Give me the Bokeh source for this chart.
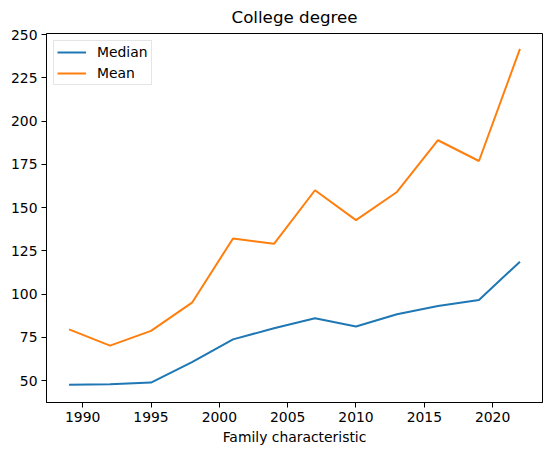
from bokeh.plotting import figure
from bokeh.models import ColumnDataSource, Range1d, FixedTicker, Legend, LegendItem
from bokeh.embed import file_html
from bokeh.resources import INLINE

years = [1989, 1992, 1995, 1998, 2001, 2004, 2007, 2010, 2013, 2016, 2019, 2022]
median = [47.5, 47.8, 48.8, 60.6, 73.8, 80.2, 86.0, 81.2, 88.3, 93.1, 96.6, 118.7]
mean = [79.6, 70.2, 78.7, 95.0, 132.1, 129.0, 160.0, 142.7, 159.0, 188.9, 176.9, 241.7]
x_ticks = [1990, 1995, 2000, 2005, 2010, 2015, 2020]
y_ticks = [50, 75, 100, 125, 150, 175, 200, 225, 250]

src = ColumnDataSource(data=dict(year=years, median=median, mean=mean))

FONT = "DejaVu Sans"

p = figure(width=544, height=447, output_backend="svg", toolbar_location=None,
           x_range=Range1d(1987.35, 2023.65), y_range=Range1d(37.3, 250.6),
           title="College degree", min_border_left=46, min_border_right=2,
           min_border_top=33, min_border_bottom=45)

r1 = p.line("year", "median", source=src, line_color="#1f77b4", line_width=2)
r2 = p.line("year", "mean", source=src, line_color="#ff7f0e", line_width=2)

p.title.align = "center"
p.title.vertical_align = "top"
p.title.text_font = FONT
p.title.text_font_size = "16.7px"
p.title.text_font_style = "normal"
p.title.text_color = "black"
p.title.standoff = 10

p.xgrid.visible = False
p.ygrid.visible = False
p.outline_line_color = "black"
p.outline_line_width = 1
p.outline_line_alpha = 1

for ax in (p.xaxis[0], p.yaxis[0]):
    ax.axis_line_color = "black"
    ax.major_tick_line_color = "black"
    ax.major_tick_out = 5
    ax.major_tick_in = 0
    ax.minor_tick_line_color = None
    ax.major_label_text_font = FONT
    ax.major_label_text_font_size = "13.9px"
    ax.major_label_text_color = "black"
    ax.major_label_standoff = 4
    ax.axis_label_text_font = FONT
    ax.axis_label_text_font_size = "13.9px"
    ax.axis_label_text_font_style = "normal"
    ax.axis_label_text_color = "black"

p.xaxis[0].ticker = FixedTicker(ticks=x_ticks)
p.yaxis[0].ticker = FixedTicker(ticks=y_ticks)
p.xaxis[0].axis_label = "Family characteristic"
p.xaxis[0].axis_label_standoff = 4

legend = Legend(items=[LegendItem(label="Median", renderers=[r1]),
                       LegendItem(label="Mean", renderers=[r2])],
                location="top_left")
legend.label_text_font = FONT
legend.label_text_font_size = "13.9px"
legend.label_text_color = "black"
legend.border_line_color = "#cccccc"
legend.border_line_width = 1
legend.background_fill_alpha = 0.8
legend.glyph_width = 29
legend.glyph_height = 16
legend.label_height = 16
legend.label_standoff = 11
legend.spacing = 5
legend.padding = 3
legend.margin = 7
p.add_layout(legend)

open("out.html", "w").write(file_html(p, INLINE))
